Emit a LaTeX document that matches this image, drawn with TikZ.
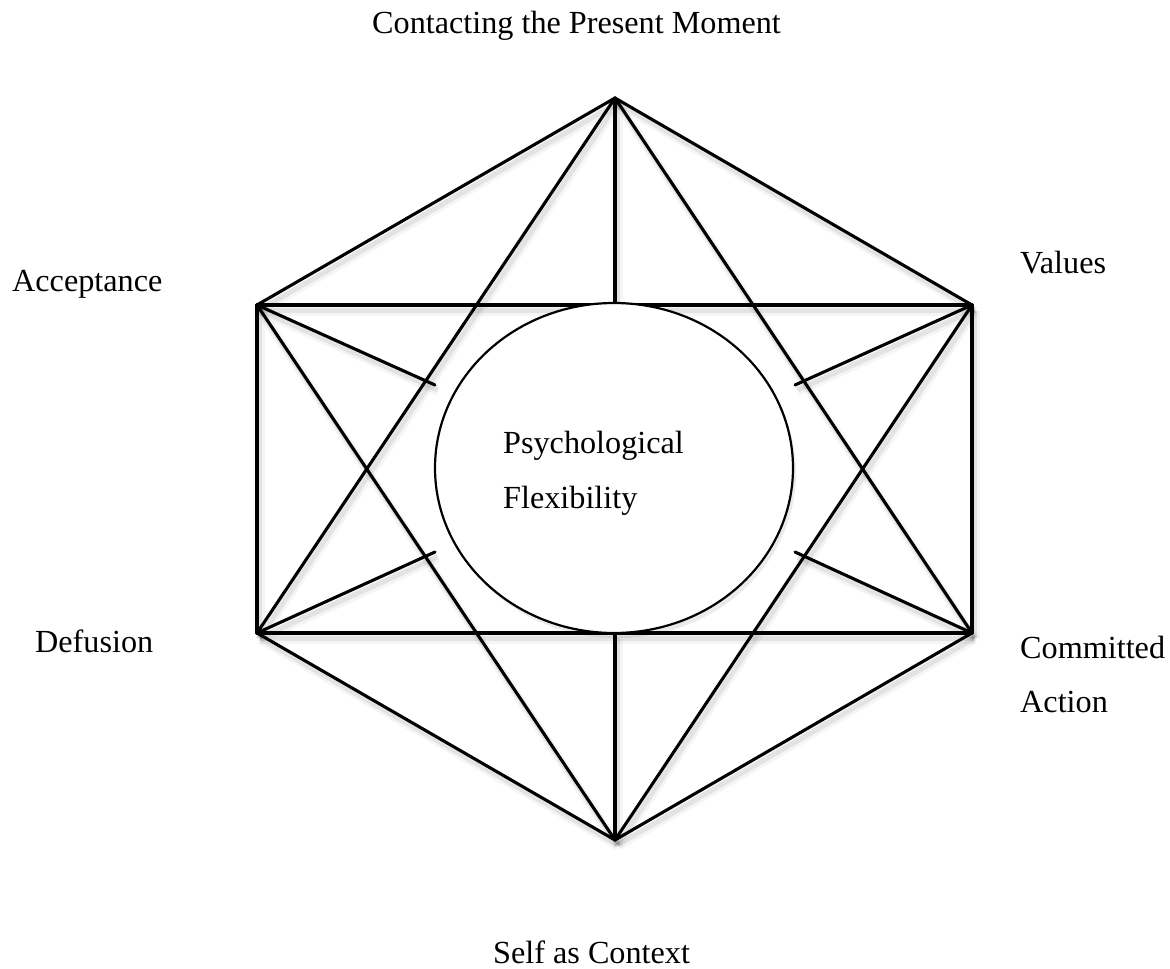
\documentclass[tikz,border=0pt]{standalone}
\usepackage{fontspec}
\setmainfont{Liberation Serif}
\usetikzlibrary{shapes.geometric}
\begin{document}
\begin{tikzpicture}[x=1pt,y=-1pt,
  shad/.style={preaction={draw=black,opacity=0.04,line width=9pt,transform canvas={shift={(3pt,-6pt)}}},
               preaction={draw=black,opacity=0.07,line width=5pt,transform canvas={shift={(2.5pt,-5pt)}}}},
  edge/.style={draw=black,line width=3.1pt,line cap=round,line join=round,shad},
  lbl/.style={font=\fontsize{32.2}{40}\selectfont,inner sep=0pt,anchor=base west},
  ctr/.style={font=\fontsize{32.2}{40}\selectfont,inner sep=0pt,anchor=base west}]
\useasboundingbox (0,0) rectangle (1170,969);
\fill[white] (0,0) rectangle (1170,969);
% vertices
\coordinate (T) at (615,98);
\coordinate (AL) at (257,305);
\coordinate (V) at (972,305);
\coordinate (DL) at (257,633);
\coordinate (CA) at (972,633);
\coordinate (B) at (615,840);
\coordinate (ET) at (615,303);
\coordinate (EB) at (615,633);
\coordinate (s1) at (435,385);
\coordinate (s2) at (435,552);
\coordinate (s3) at (795,385);
\coordinate (s4) at (795,552);
% hexagon
\draw[edge] (T) -- (AL);
\draw[edge] (T) -- (V);
\draw[edge] (AL) -- (DL);
\draw[edge] (V) -- (CA);
\draw[edge] (DL) -- (B);
\draw[edge] (CA) -- (B);
% star
\draw[edge] (T) -- (DL);
\draw[edge] (T) -- (CA);
\draw[edge] (DL) -- (CA);
\draw[edge] (B) -- (AL);
\draw[edge] (B) -- (V);
\draw[edge] (AL) -- (V);
% verticals
\draw[edge] (T) -- (ET);
\draw[edge] (EB) -- (B);
% spokes
\draw[edge] (AL) -- (s1);
\draw[edge] (DL) -- (s2);
\draw[edge] (V) -- (s3);
\draw[edge] (CA) -- (s4);
% central ellipse
\node[draw=black,line width=2.2pt,fill=white,ellipse,minimum width=358pt,minimum height=330pt,inner sep=0pt,
  preaction={fill=black,opacity=0.08,transform canvas={shift={(3pt,-5pt)}}}] (E) at (614,468) {};
\node[ctr] (PF1) at (503,453) {Psychological};
\node[ctr] (PF2) at (503,508) {Flexibility};
% labels
\node[lbl] (cpm) at (372,33) {Contacting the Present Moment};
\node[lbl] (acc) at (12,291) {Acceptance};
\node[lbl] (val) at (1020,273) {Values};
\node[lbl] (def) at (35,652) {Defusion};
\node[lbl] (com) at (1020,658) {Committed};
\node[lbl] (act) at (1020,712) {Action};
\node[lbl] (sac) at (493,963) {Self as Context};
\end{tikzpicture}
\end{document}
